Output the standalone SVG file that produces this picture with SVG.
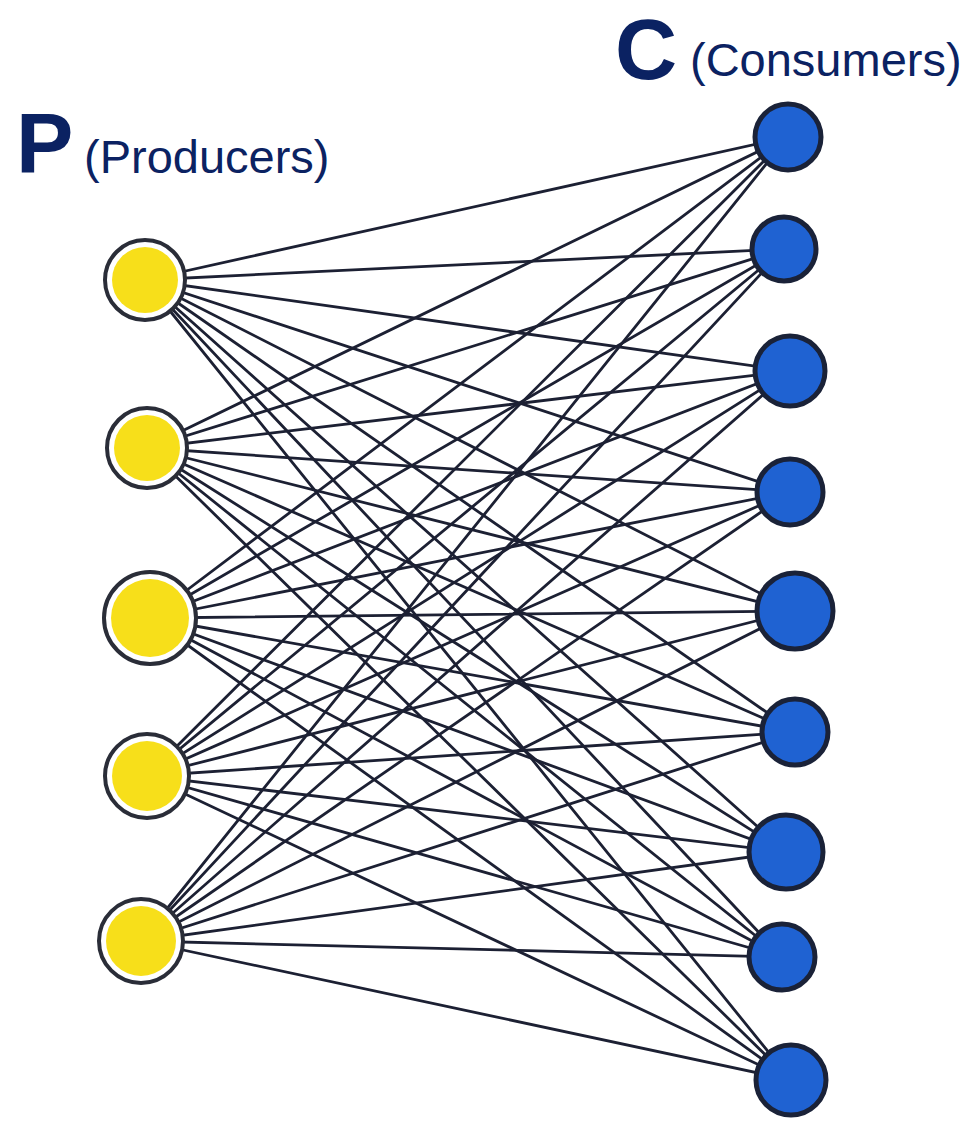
<svg xmlns="http://www.w3.org/2000/svg" width="971" height="1123" viewBox="0 0 971 1123">
<style>
.lbl{font-family:"Liberation Sans",Arial,sans-serif;fill:#0b2262}
.big{font-weight:bold;font-size:86px}
.sub{font-size:47px}
.edge{stroke:#1c2033;stroke-width:2.8;fill:none;stroke-linecap:round}
.pr{fill:#ffffff;stroke:#2a2d38;stroke-width:4}
.py{fill:#f7df1a}
.co{fill:#1f62d2;stroke:#1a2238;stroke-width:5}
</style>
<rect width="971" height="1123" fill="#ffffff"/>
<text class="lbl big" x="16" y="173">P</text>
<text class="lbl sub" x="84" y="173">(Producers)</text>
<text class="lbl big" x="615" y="79">C</text>
<text class="lbl sub" x="690" y="76">(Consumers)</text>
<g id="edges">
<path class="edge" d="M145 280L788 137M145 280L784 249M145 280L790 371M145 280L790 492M145 280L795 611M145 280L795 732M145 280L786 852M145 280L782 957M145 280L791 1080"/>
<path class="edge" d="M147 448L788 137M147 448L784 249M147 448L790 371M147 448L790 492M147 448L795 611M147 448L795 732M147 448L786 852M147 448L782 957M147 448L791 1080"/>
<path class="edge" d="M150 618L788 137M150 618L784 249M150 618L790 371M150 618L790 492M150 618L795 611M150 618L795 732M150 618L786 852M150 618L782 957M150 618L791 1080"/>
<path class="edge" d="M147 776L788 137M147 776L784 249M147 776L790 371M147 776L790 492M147 776L795 611M147 776L795 732M147 776L786 852M147 776L782 957M147 776L791 1080"/>
<path class="edge" d="M141 941L788 137M141 941L784 249M141 941L790 371M141 941L790 492M141 941L795 611M141 941L795 732M141 941L786 852M141 941L782 957M141 941L791 1080"/>
</g>
<g id="P1"><circle class="pr" cx="145" cy="280" r="40"/><circle class="py" cx="145" cy="280" r="33"/></g>
<g id="P2"><circle class="pr" cx="147" cy="448" r="40"/><circle class="py" cx="147" cy="448" r="33"/></g>
<g id="P3"><circle class="pr" cx="150" cy="618" r="46"/><circle class="py" cx="150" cy="618" r="39"/></g>
<g id="P4"><circle class="pr" cx="147" cy="776" r="42"/><circle class="py" cx="147" cy="776" r="35"/></g>
<g id="P5"><circle class="pr" cx="141" cy="941" r="42"/><circle class="py" cx="141" cy="941" r="35"/></g>
<g id="C1"><circle class="co" cx="788" cy="137" r="33"/></g>
<g id="C2"><circle class="co" cx="784" cy="249" r="32"/></g>
<g id="C3"><circle class="co" cx="790" cy="371" r="35"/></g>
<g id="C4"><circle class="co" cx="790" cy="492" r="33"/></g>
<g id="C5"><circle class="co" cx="795" cy="611" r="38"/></g>
<g id="C6"><circle class="co" cx="795" cy="732" r="33"/></g>
<g id="C7"><circle class="co" cx="786" cy="852" r="37"/></g>
<g id="C8"><circle class="co" cx="782" cy="957" r="33"/></g>
<g id="C9"><circle class="co" cx="791" cy="1080" r="35"/></g>
</svg>
